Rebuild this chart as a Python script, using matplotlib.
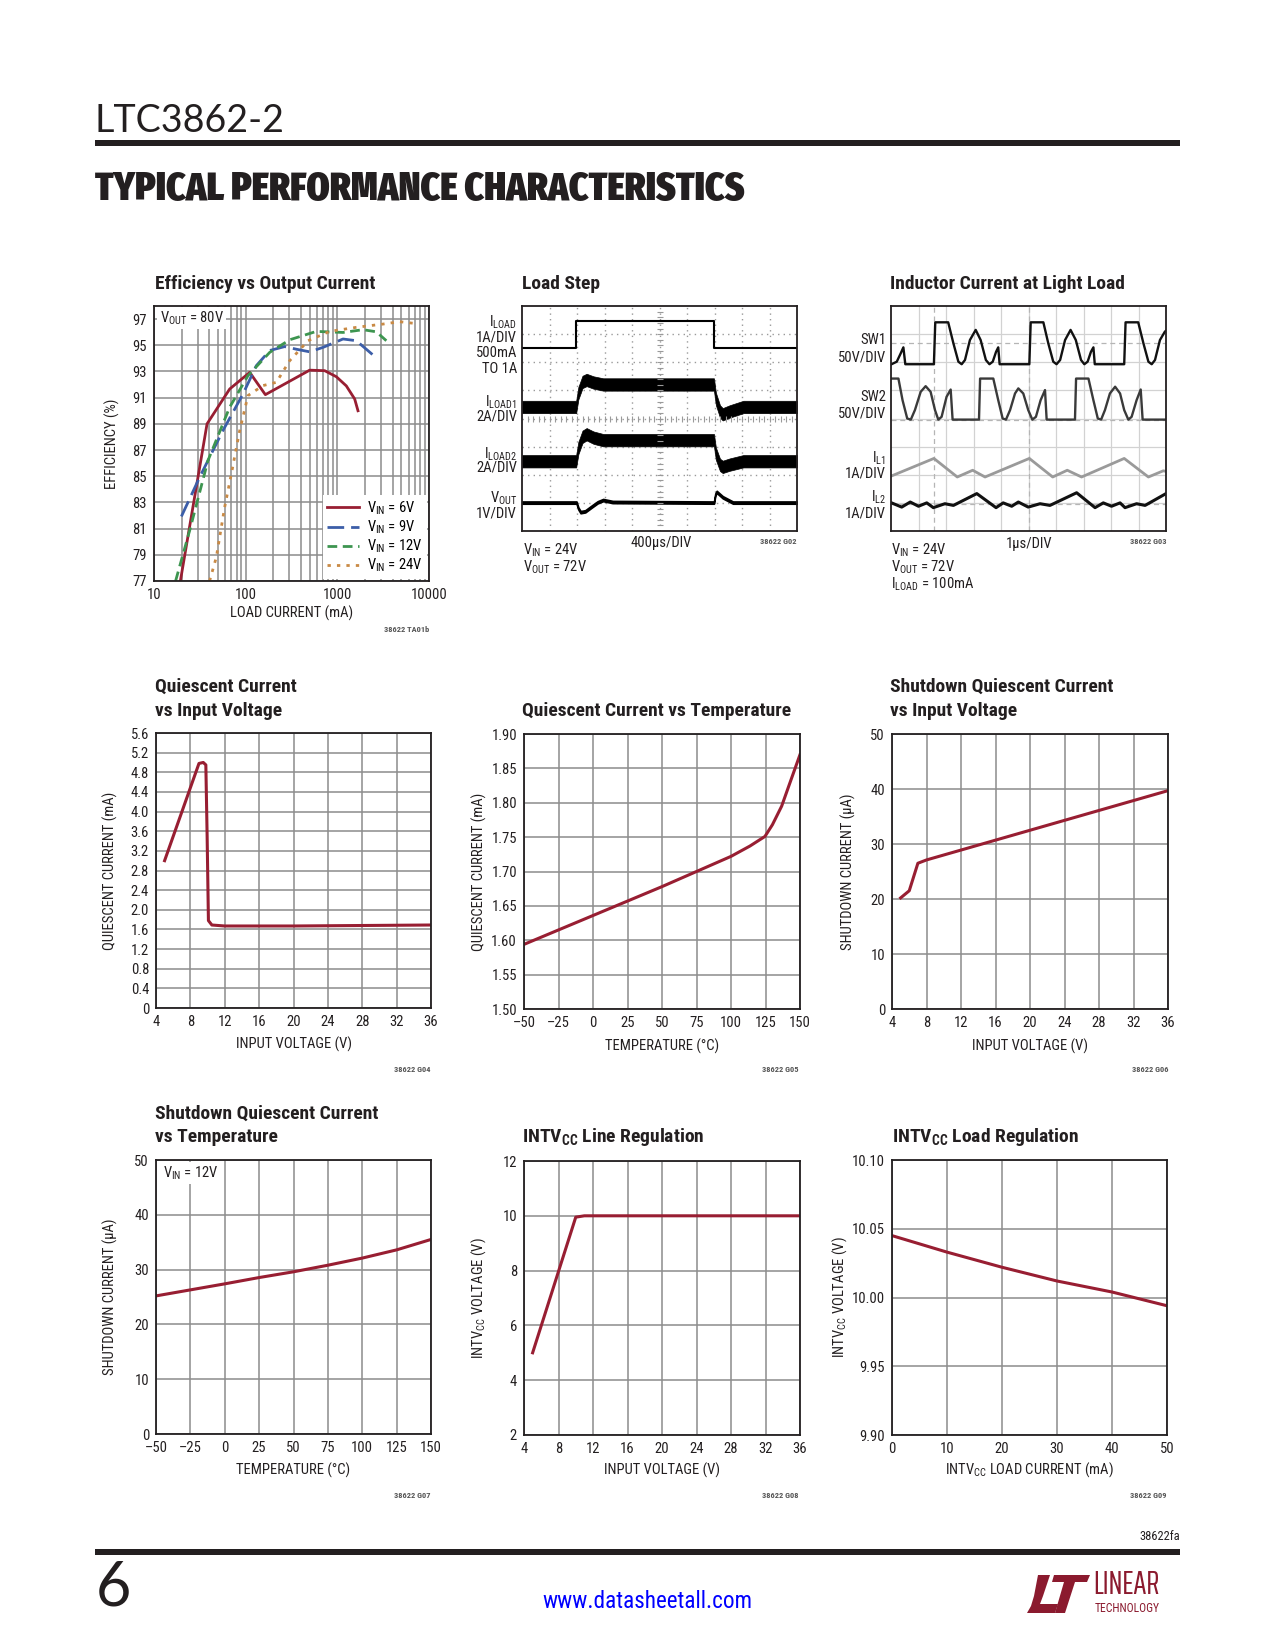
import numpy as np
import matplotlib
matplotlib.use('Agg')
import matplotlib.pyplot as plt
from matplotlib import font_manager as fm
from matplotlib.patches import Rectangle, Polygon

W, H = 1275, 1650

# ---------------- data ----------------
# Efficiency vs output current (load current mA, efficiency %)
eff_6v_i = [19.4, 37.9, 66.9, 110.7, 164, 499, 728, 975, 1253, 1546, 1680]
eff_6v = [77.0, 89.0, 91.66, 92.93, 91.23, 93.1, 93.06, 92.6, 91.9, 90.9, 90.0]
eff_9v_i = [19.9, 31.5, 56.6, 93.5, 130.6, 183, 266, 357, 499, 698, 1153, 1611, 2449]
eff_9v = [81.93, 84.93, 88.5, 91.28, 93.44, 94.6, 94.9, 94.7, 94.5, 94.84, 95.48, 95.35, 94.26]
eff_12v_i = [17.2, 24.5, 38.8, 66.9, 106, 183, 302, 590, 1153, 1905, 2660, 3425]
eff_12v = [77.0, 80.86, 86.2, 90.27, 92.68, 94.46, 95.42, 96.06, 95.98, 96.19, 96.03, 95.35]
eff_24v_i = [40.4, 47.9, 59.0, 69.8, 86.1, 106, 154, 216, 302, 479, 825, 1611, 3148, 4786, 6982]
eff_24v = [77.0, 78.83, 82.64, 85.18, 88.49, 91.16, 91.92, 92.17, 93.82, 95.35, 96.06, 96.37, 96.62, 96.8, 96.67]
eff_labels = ['V$_{\\mathrm{IN}}$ = 6V', 'V$_{\\mathrm{IN}}$ = 9V',
              'V$_{\\mathrm{IN}}$ = 12V', 'V$_{\\mathrm{IN}}$ = 24V']
eff_xticks = [10, 100, 1000, 10000]
eff_xticklabels = ['10', '100', '1000', '10000']
eff_yticks = [77, 79, 81, 83, 85, 87, 89, 91, 93, 95, 97]

# Load step scope traces (divisions)
ld_t = [0, 1.95, 1.95, 6.98, 6.98, 10]
ld_i = [6.52, 6.52, 7.47, 7.47, 6.52, 6.52]
ld1_t = [0, 1.97, 2.05, 2.2, 2.35, 2.6, 2.95, 6.98, 7.05, 7.2, 7.3, 7.55, 8.05, 10]
ld1_c = [4.41, 4.41, 4.9, 5.3, 5.37, 5.28, 5.21, 5.21, 4.7, 4.25, 4.15, 4.25, 4.41, 4.41]
ld2_c = [2.48, 2.48, 2.95, 3.35, 3.44, 3.32, 3.23, 3.23, 2.75, 2.35, 2.28, 2.36, 2.48, 2.48]
vo_t = [0, 1.98, 2.05, 2.13, 2.3, 2.55, 2.75, 2.95, 3.3, 6.98, 7.03, 7.08, 7.3, 7.67, 10]
vo_v = [1.01, 1.01, 0.8, 0.67, 0.7, 0.88, 1.02, 1.1, 1.03, 1.01, 1.3, 1.39, 1.2, 1.01, 1.01]

# Inductor current at light load scope traces (divisions)
sw1_t = [0.02, 0.21, 0.35, 0.45, 0.52, 1.56, 1.61, 2.08, 2.27, 2.45, 2.57, 2.69, 2.87, 3.08, 3.26,
         3.45, 3.58, 3.70, 3.82, 3.90, 3.95, 5.03, 5.08, 5.54, 5.72, 5.90, 6.02, 6.15, 6.33, 6.53,
         6.72, 6.91, 7.03, 7.15, 7.27, 7.36, 7.41, 8.48, 8.53, 8.99, 9.18, 9.36, 9.48, 9.60, 9.78,
         9.96, 10.0]
sw1_v = [5.93, 6.02, 6.31, 6.53, 5.93, 5.93, 7.42, 7.42, 6.67, 6.02, 5.93, 6.08, 6.79, 7.15, 6.79,
         6.08, 5.93, 6.02, 6.37, 6.53, 5.93, 5.93, 7.42, 7.42, 6.67, 6.02, 5.93, 6.08, 6.79, 7.15,
         6.79, 6.08, 5.93, 6.02, 6.37, 6.53, 5.93, 5.93, 7.42, 7.42, 6.67, 6.02, 5.93, 6.08, 6.79,
         7.09, 7.12]
sw2_t = [0.02, 0.27, 0.42, 0.59, 0.72, 0.87, 1.08, 1.26, 1.44, 1.60, 1.72, 1.84, 2.02, 2.17, 2.24,
         3.20, 3.24, 3.72, 3.90, 4.06, 4.18, 4.33, 4.51, 4.63, 4.81, 4.99, 5.14, 5.27, 5.44, 5.60,
         5.66, 6.69, 6.73, 7.18, 7.36, 7.52, 7.64, 7.78, 7.96, 8.15, 8.33, 8.48, 8.63, 8.75, 8.93,
         9.08, 9.15, 10.0]
sw2_v = [5.42, 5.42, 4.65, 4.00, 3.96, 4.30, 4.95, 5.15, 4.95, 4.30, 3.96, 4.06, 4.77, 5.03, 3.96,
         3.96, 5.42, 5.42, 4.65, 4.00, 3.96, 4.30, 4.89, 5.07, 4.89, 4.30, 3.96, 4.06, 4.65, 5.01,
         3.96, 3.96, 5.42, 5.42, 4.65, 4.00, 3.96, 4.30, 4.89, 5.13, 4.89, 4.30, 3.96, 4.06, 4.65,
         5.03, 3.96, 3.96]
il1_t = [0, 1.56, 2.41, 2.97, 3.42, 5.03, 5.88, 6.41, 6.93, 8.48, 9.36, 9.90, 10.0]
il1_v = [1.95, 2.58, 1.92, 2.16, 1.92, 2.58, 1.92, 2.16, 1.92, 2.58, 1.92, 2.14, 2.12]
il2_t = [0.02, 0.39, 0.70, 1.00, 1.30, 1.54, 1.96, 2.27, 3.12, 3.82, 4.08, 4.39, 4.63, 4.99, 5.42,
         5.78, 6.75, 7.42, 7.72, 8.02, 8.33, 8.51, 8.93, 9.24, 10.0]
il2_v = [1.00, 0.85, 1.03, 0.88, 1.00, 0.83, 0.97, 0.91, 1.33, 0.83, 1.00, 0.88, 1.03, 0.85, 0.97,
         0.91, 1.36, 0.83, 1.00, 0.88, 1.00, 0.83, 0.97, 0.91, 1.33]

# Quiescent current vs input voltage
qv_vin = [5, 9.0, 9.5, 9.8, 9.95, 10.1, 10.5, 12, 20, 36]
qv_ma = [3.0, 4.98, 5.0, 4.95, 3.5, 1.78, 1.69, 1.67, 1.67, 1.69]
v_ticks = [4, 8, 12, 16, 20, 24, 28, 32, 36]
qv_yticks = [0, 0.4, 0.8, 1.2, 1.6, 2.0, 2.4, 2.8, 3.2, 3.6, 4.0, 4.4, 4.8, 5.2, 5.6]
qv_yticklabels = ['0', '0.4', '0.8', '1.2', '1.6', '2.0', '2.4', '2.8', '3.2', '3.6', '4.0',
                  '4.4', '4.8', '5.2', '5.6']

# Quiescent current vs temperature
qt_temp = [-50, -25, 0, 25, 50, 75, 100, 113.7, 124.6, 130, 136.7, 142, 150]
qt_ma = [1.594, 1.615, 1.636, 1.657, 1.678, 1.700, 1.722, 1.737, 1.751, 1.768, 1.795, 1.825, 1.870]
t_ticks = [-50, -25, 0, 25, 50, 75, 100, 125, 150]
t_ticklabels = ['\u201350', '\u201325', '0', '25', '50', '75', '100', '125', '150']
qt_yticks = [1.50, 1.55, 1.60, 1.65, 1.70, 1.75, 1.80, 1.85, 1.90]
qt_yticklabels = ['1.50', '1.55', '1.60', '1.65', '1.70', '1.75', '1.80', '1.85', '1.90']

# Shutdown current vs input voltage
sv_vin = [5, 6, 7, 8, 20, 36]
sv_ua = [20.2, 21.5, 26.5, 27.1, 32.5, 39.7]
ua_ticks = [0, 10, 20, 30, 40, 50]

# Shutdown current vs temperature
st_temp = [-50, -25, 0, 25, 50, 75, 100, 125, 150]
st_ua = [25.2, 26.3, 27.4, 28.55, 29.6, 30.8, 32.1, 33.6, 35.5]

# INTVcc line regulation
lr_vin = [5, 10, 11, 36]
lr_v = [5.0, 9.95, 10.0, 10.0]
lr_yticks = [2, 4, 6, 8, 10, 12]

# INTVcc load regulation
lo_ma = [0, 10, 20, 30, 40, 50]
lo_v = [10.045, 10.033, 10.022, 10.012, 10.004, 9.994]
lo_xticks = [0, 10, 20, 30, 40, 50]
lo_yticks = [9.90, 9.95, 10.00, 10.05, 10.10]
lo_yticklabels = ['9.90', '9.95', '10.00', '10.05', '10.10']

# ---------------- fonts / style ----------------
names = set(f.name for f in fm.fontManager.ttflist)


def pick(*cands):
    for c in cands:
        if c in names:
            return c
    return 'DejaVu Sans'


COND = pick('Roboto Condensed', 'Liberation Sans Narrow', 'Open Sans Condensed', 'Liberation Sans', 'Roboto')
LIGHT = pick('Lato', 'Open Sans', 'Roboto', 'DejaVu Sans')
HEAVY = pick('Fira Sans Extra Condensed', 'Roboto Condensed', 'DejaVu Sans')
XCOND = pick('Saira ExtraCondensed', 'Fira Sans Extra Condensed', 'Roboto Condensed', 'DejaVu Sans')
plt.rcParams['font.family'] = [COND, 'DejaVu Sans']
plt.rcParams['mathtext.fontset'] = 'custom'
plt.rcParams['mathtext.rm'] = COND
plt.rcParams['mathtext.it'] = COND + ':italic'
plt.rcParams['mathtext.bf'] = COND + ':bold'
plt.rcParams['mathtext.sf'] = COND

TXT = '#231f20'
RED = '#981e32'
LOGO = '#8b1a2e'
GRID = '#8c8c8c'
SPINE = '#231f20'

fig = plt.figure(figsize=(W / 100, H / 100), dpi=100)
fig.patch.set_facecolor('white')


def ax_at(x0, y0, x1, y1):
    return fig.add_axes([x0 / W, 1 - y1 / H, (x1 - x0) / W, (y1 - y0) / H])


def txt(x, y, s, **kw):
    kw.setdefault('color', TXT)
    kw.setdefault('va', 'center')
    return fig.text(x / W, 1 - y / H, s, **kw)


def fit(t, target_w, max_h=None):
    r = fig.canvas.get_renderer()
    bb = t.get_window_extent(r)
    k = target_w / bb.width
    if max_h is not None:
        k = min(k, max_h / bb.height)
    t.set_fontsize(t.get_fontsize() * k)


def rule(x0, x1, y0, y1):
    fig.add_artist(Rectangle((x0 / W, 1 - y1 / H), (x1 - x0) / W, (y1 - y0) / H,
                             transform=fig.transFigure, color=TXT, lw=0))


TS = 14     # title size
FS = 10.5   # tick / label size


def title(x, y, s):
    txt(x, y, s, fontsize=TS, fontweight='bold', ha='left')


def code(xr, y, s):
    txt(xr, y, s, fontsize=6, fontweight='bold', ha='right', color='#555555')


def chart(box, xlabel, ylabel, ylab_x, xlab_y):
    ax = ax_at(*box)
    ax.grid(True, color=GRID, lw=1.1)
    ax.set_axisbelow(True)
    ax.tick_params(length=0, pad=5, labelsize=FS, colors=TXT)
    for s in ax.spines.values():
        s.set_color(SPINE)
        s.set_linewidth(1.3)
        s.set_zorder(3)
    x0, y0, x1, y1 = box
    txt((x0 + x1) / 2, xlab_y, xlabel, fontsize=FS, ha='center')
    txt(ylab_x, (y0 + y1) / 2, ylabel, fontsize=FS, ha='center', rotation=90)
    return ax


# ---------------- page header / footer ----------------
t = txt(95, 121, 'LTC3862-2', fontsize=28, fontfamily=LIGHT, fontweight='normal', ha='left')
fit(t, 190)
rule(95, 1180, 140, 146)
t = txt(95, 190, 'TYPICAL PERFORMANCE CHARACTERISTICS', fontsize=24, fontfamily=HEAVY,
        fontweight='black', ha='left')
fit(t, 650)

rule(95, 1180, 1549, 1555)
txt(1180, 1536, '38622fa', fontsize=9, ha='right')
txt(96, 1588, '6', fontsize=44, fontfamily=LIGHT, fontweight='normal', ha='left')
t = txt(647, 1602, 'www.datasheetall.com', fontsize=16, ha='center', color='#0000ff')
fit(t, 209)

# Linear Technology logo
lax = ax_at(1005, 1560, 1190, 1620)
lax.set_xlim(1005, 1190)
lax.set_ylim(1620, 1560)
lax.axis('off')
lax.add_patch(Polygon([(1038, 1575), (1050, 1575), (1043, 1596), (1040, 1604), (1058, 1604),
                       (1055, 1613), (1027, 1613), (1031, 1606), (1034, 1596)],
                      closed=True, color=LOGO, lw=0))
lax.add_patch(Polygon([(1054, 1575), (1090, 1575), (1087, 1582), (1075, 1582), (1065, 1613),
                       (1055, 1613), (1064, 1582), (1052, 1582)],
                      closed=True, color=LOGO, lw=0))
t = txt(1093, 1600, 'LINEAR', fontsize=26, fontfamily=XCOND, color=LOGO, ha='left', va='bottom')
fit(t, 87, max_h=30)
t = txt(1095, 1602, 'TECHNOLOGY', fontsize=7, color=LOGO, ha='left', va='top')
fit(t, 85, max_h=12)

# ---------------- Efficiency vs Output Current ----------------
title(155, 284, 'Efficiency vs Output Current')
ax = chart((154, 306, 429, 581), 'LOAD CURRENT (mA)', 'EFFICIENCY (%)', 112, 613)
ax.set_xscale('log')
ax.set_xlim(10, 10000)
ax.set_ylim(77, 98)
ax.set_xticks(eff_xticks)
ax.set_xticklabels(eff_xticklabels)
ax.set_yticks(eff_yticks)
ax.minorticks_on()
ax.yaxis.set_minor_locator(matplotlib.ticker.NullLocator())
ax.grid(True, which='minor', axis='x', color=GRID, lw=1.1)
ax.tick_params(which='minor', length=0)
ax.xaxis.set_minor_formatter(matplotlib.ticker.NullFormatter())
l1, = ax.plot(eff_6v_i, eff_6v, color=RED, lw=2.0, solid_joinstyle='round')
l2, = ax.plot(eff_9v_i, eff_9v, color='#3c5ea8', lw=2.0, dashes=(6, 2.5))
l3, = ax.plot(eff_12v_i, eff_12v, color='#3d9550', lw=2.0, dashes=(3.5, 2))
l4, = ax.plot(eff_24v_i, eff_24v, color='#c98a45', lw=2.0, dashes=(1.2, 2.2))
leg = ax.legend([l1, l2, l3, l4], eff_labels, loc='lower right', fontsize=FS, frameon=True,
                fancybox=False, framealpha=1, edgecolor='none', facecolor='white',
                borderaxespad=0.15, borderpad=0.3, labelspacing=0.12, handlelength=2.2,
                handletextpad=0.5)
leg.set_zorder(4)
ax.text(0.02, 0.957, 'V$_{\\mathrm{OUT}}$ = 80V', transform=ax.transAxes, fontsize=FS, color=TXT,
        ha='left', va='center', zorder=4,
        bbox=dict(facecolor='white', edgecolor='none', pad=1.5))
code(429, 630, '38622 TA01b')

# ---------------- Load Step ----------------
title(522, 284, 'Load Step')
ax = ax_at(522, 306, 797, 531)
ax.set_xlim(0, 10)
ax.set_ylim(0, 8)
ax.set_xticks([])
ax.set_yticks([])
for s in ax.spines.values():
    s.set_color(SPINE)
    s.set_linewidth(1.3)
for k in range(1, 10):
    ax.axvline(k, color='#9a9a9a', lw=1.0, ls=(0, (1, 3)), zorder=0)
for k in range(1, 8):
    ax.axhline(k, color='#9a9a9a', lw=1.0, ls=(0, (1, 3)), zorder=0)
ax.plot(np.arange(0.2, 10, 0.2), np.full(49, 4.0), ls='none', marker='|', ms=4, mew=0.8, color='#9a9a9a')
ax.plot(np.full(39, 5.0), np.arange(0.2, 8, 0.2), ls='none', marker='_', ms=4, mew=0.8, color='#9a9a9a')
ax.plot(ld_t, ld_i, color='black', lw=1.5)
hw = 0.22
c1 = np.array(ld1_c)
c2 = np.array(ld2_c)
ax.fill_between(ld1_t, c1 - hw, c1 + hw, color='black', lw=0.5)
ax.fill_between(ld1_t, c2 - hw, c2 + hw, color='black', lw=0.5)
vv = np.array(vo_v)
ax.fill_between(vo_t, vv - 0.04, vv + 0.04, color='black', lw=1.2)
lab = dict(fontsize=FS, ha='right')
txt(517, 322, 'I$_{\\mathrm{LOAD}}$', **lab)
txt(517, 337, '1A/DIV', **lab)
txt(517, 353, '500mA', **lab)
txt(517, 369, 'TO 1A', **lab)
txt(517, 402, 'I$_{\\mathrm{LOAD1}}$', **lab)
txt(517, 416, '2A/DIV', **lab)
txt(517, 454, 'I$_{\\mathrm{LOAD2}}$', **lab)
txt(517, 468, '2A/DIV', **lab)
txt(517, 498, 'V$_{\\mathrm{OUT}}$', **lab)
txt(517, 513, '1V/DIV', **lab)
txt(523, 550, 'V$_{\\mathrm{IN}}$ = 24V', fontsize=FS, ha='left')
txt(523, 567, 'V$_{\\mathrm{OUT}}$ = 72V', fontsize=FS, ha='left')
txt(661, 543, '400\u00b5s/DIV', fontsize=FS, ha='center')
code(797, 541, '38622 G02')

# ---------------- Inductor Current at Light Load ----------------
title(890, 284, 'Inductor Current at Light Load')
ax = ax_at(891, 306, 1166, 531)
ax.set_xlim(0, 10)
ax.set_ylim(0, 8)
ax.set_xticks([])
ax.set_yticks([])
for s in ax.spines.values():
    s.set_color(SPINE)
    s.set_linewidth(1.3)
for k in range(1, 10):
    ax.axvline(k, color='#d2d2d2', lw=0.9, zorder=0)
for k in range(1, 8):
    ax.axhline(k, color='#d2d2d2', lw=0.9, zorder=0)
for xv in (1.56, 5.03):
    ax.axvline(xv, color='#b5b5b5', lw=0.9, ls=(0, (4, 3)), zorder=0)
for yv in (6.69, 3.96, 0.97):
    ax.axhline(yv, color='#b5b5b5', lw=0.9, ls=(0, (4, 3)), zorder=0)
ax.plot(sw1_t, sw1_v, color='#111111', lw=1.7)
ax.plot(sw2_t, sw2_v, color='#3a3a3a', lw=1.7)
ax.plot(il1_t, il1_v, color='#9a9a9a', lw=2.0)
ax.plot(il2_t, il2_v, color='#111111', lw=2.2)
txt(886, 340, 'SW1', **lab)
txt(886, 358, '50V/DIV', **lab)
txt(886, 397, 'SW2', **lab)
txt(886, 414, '50V/DIV', **lab)
txt(886, 458, 'I$_{\\mathrm{L1}}$', **lab)
txt(886, 473, '1A/DIV', **lab)
txt(886, 497, 'I$_{\\mathrm{L2}}$', **lab)
txt(886, 513, '1A/DIV', **lab)
txt(891, 550, 'V$_{\\mathrm{IN}}$ = 24V', fontsize=FS, ha='left')
txt(891, 567, 'V$_{\\mathrm{OUT}}$ = 72V', fontsize=FS, ha='left')
txt(891, 584, 'I$_{\\mathrm{LOAD}}$ = 100mA', fontsize=FS, ha='left')
txt(1029, 544, '1\u00b5s/DIV', fontsize=FS, ha='center')
code(1166, 541, '38622 G03')

# ---------------- Quiescent Current vs Input Voltage ----------------
title(155, 687, 'Quiescent Current')
title(155, 711, 'vs Input Voltage')
ax = chart((156, 733, 431, 1008), 'INPUT VOLTAGE (V)', 'QUIESCENT CURRENT (mA)', 110, 1044)
ax.set_xlim(4, 36)
ax.set_ylim(0, 5.6)
ax.set_xticks(v_ticks)
ax.set_yticks(qv_yticks)
ax.set_yticklabels(qv_yticklabels)
ax.plot(qv_vin, qv_ma, color=RED, lw=2.2, solid_joinstyle='round')
code(431, 1069, '38622 G04')

# ---------------- Quiescent Current vs Temperature ----------------
title(522, 711, 'Quiescent Current vs Temperature')
ax = chart((524, 734, 800, 1009), 'TEMPERATURE (\u00b0C)', 'QUIESCENT CURRENT (mA)', 479, 1046)
ax.set_xlim(-50, 150)
ax.set_ylim(1.5, 1.9)
ax.set_xticks(t_ticks)
ax.set_xticklabels(t_ticklabels)
ax.set_yticks(qt_yticks)
ax.set_yticklabels(qt_yticklabels)
ax.plot(qt_temp, qt_ma, color=RED, lw=2.2, solid_joinstyle='round')
code(799, 1070, '38622 G05')

# ---------------- Shutdown Quiescent Current vs Input Voltage ----------------
title(890, 687, 'Shutdown Quiescent Current')
title(890, 711, 'vs Input Voltage')
ax = chart((892, 734, 1168, 1009), 'INPUT VOLTAGE (V)', 'SHUTDOWN CURRENT (\u00b5A)', 848, 1046)
ax.set_xlim(4, 36)
ax.set_ylim(0, 50)
ax.set_xticks(v_ticks)
ax.set_yticks(ua_ticks)
ax.plot(sv_vin, sv_ua, color=RED, lw=2.2, solid_joinstyle='round')
code(1168, 1069, '38622 G06')

# ---------------- Shutdown Quiescent Current vs Temperature ----------------
title(155, 1114, 'Shutdown Quiescent Current')
title(155, 1137, 'vs Temperature')
ax = chart((156, 1160, 431, 1434), 'TEMPERATURE (\u00b0C)', 'SHUTDOWN CURRENT (\u00b5A)', 110, 1470)
ax.set_xlim(-50, 150)
ax.set_ylim(0, 50)
ax.set_xticks(t_ticks)
ax.set_xticklabels(t_ticklabels)
ax.set_yticks(ua_ticks)
ax.plot(st_temp, st_ua, color=RED, lw=2.2, solid_joinstyle='round')
ax.text(0.025, 0.952, 'V$_{\\mathrm{IN}}$ = 12V', transform=ax.transAxes, fontsize=FS, color=TXT,
        ha='left', va='center', zorder=4,
        bbox=dict(facecolor='white', edgecolor='none', pad=1.5))
code(431, 1496, '38622 G07')

# ---------------- INTVcc Line Regulation ----------------
title(522, 1137, 'INTV$_{\\mathbf{CC}}$ Line Regulation')
ax = chart((524, 1161, 800, 1435), 'INPUT VOLTAGE (V)', 'INTV$_{\\mathrm{CC}}$ VOLTAGE (V)', 479, 1470)
ax.set_xlim(4, 36)
ax.set_ylim(2, 12)
ax.set_xticks(v_ticks)
ax.set_yticks(lr_yticks)
ax.plot(lr_vin, lr_v, color=RED, lw=2.2, solid_joinstyle='round')
code(799, 1496, '38622 G08')

# ---------------- INTVcc Load Regulation ----------------
title(892, 1137, 'INTV$_{\\mathbf{CC}}$ Load Regulation')
ax = chart((892, 1160, 1167, 1435), 'INTV$_{\\mathrm{CC}}$ LOAD CURRENT (mA)', 'INTV$_{\\mathrm{CC}}$ VOLTAGE (V)', 840, 1470)
ax.set_xlim(0, 50)
ax.set_ylim(9.90, 10.10)
ax.set_xticks(lo_xticks)
ax.set_yticks(lo_yticks)
ax.set_yticklabels(lo_yticklabels)
ax.plot(lo_ma, lo_v, color=RED, lw=2.2, solid_joinstyle='round')
code(1166, 1495, '38622 G09')

fig.savefig('out.png', dpi=100, facecolor='white')
